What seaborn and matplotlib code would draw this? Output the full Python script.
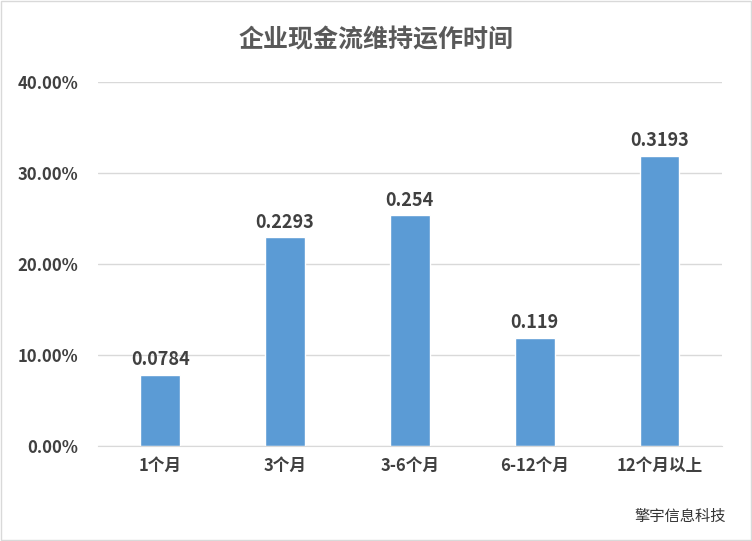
import matplotlib
matplotlib.use("Agg")
import matplotlib.pyplot as plt
import seaborn as sns
import pandas as pd

categories = ["1个月", "3个月", "3-6个月", "6-12个月", "12个月以上"]
values = [0.0784, 0.2293, 0.254, 0.119, 0.3193]
labels = ["0.0784", "0.2293", "0.254", "0.119", "0.3193"]
yticks = [0, 0.1, 0.2, 0.3, 0.4]

sns.set_style("white")
plt.rcParams['font.family'] = ['Noto Sans CJK SC', 'DejaVu Sans']

df = pd.DataFrame({"cat": categories, "val": values})
fig = plt.figure(figsize=(7.52, 5.41), dpi=100)
ax = fig.add_axes([0.130, 0.1756, 0.830, 0.6724])
sns.barplot(data=df, x="cat", y="val", color="#5b9bd5", saturation=1, width=0.32, ax=ax)

ax.set_ylim(0, 0.4)
ax.set_yticks(yticks)
ax.set_yticklabels([f"{v*100:.2f}%" for v in yticks], fontsize=12, fontweight='bold', color='#404040')
ax.set_xlabel("")
ax.set_ylabel("")
ax.tick_params(axis='x', labelsize=12, colors='#404040', length=0, pad=8)
ax.tick_params(axis='y', length=0, pad=14)
for t in ax.get_xticklabels():
    t.set_fontweight('bold')
ax.grid(axis='y', color='#d9d9d9', linewidth=1)
ax.set_axisbelow(True)
for s in ['top', 'right', 'left']:
    ax.spines[s].set_visible(False)
ax.spines['bottom'].set_color('#d9d9d9')

for i, (v, lab) in enumerate(zip(values, labels)):
    ax.text(i, v + 0.006, lab, ha='center', va='bottom', fontsize=13, fontweight='bold', color='#404040')

fig.text(0.5, 0.926, "企业现金流维持运作时间", ha='center', va='center', fontsize=18, fontweight='heavy', color='#595959')
fig.text(0.965, 0.045, "擎宇信息科技", ha='right', va='center', fontsize=11, color='#333333')

fig.patches.append(plt.Rectangle((0.001, 0.001), 0.998, 0.998, transform=fig.transFigure,
                                 fill=False, edgecolor='#d9d9d9', linewidth=1))
fig.savefig("out.png", dpi=100, facecolor='white')
